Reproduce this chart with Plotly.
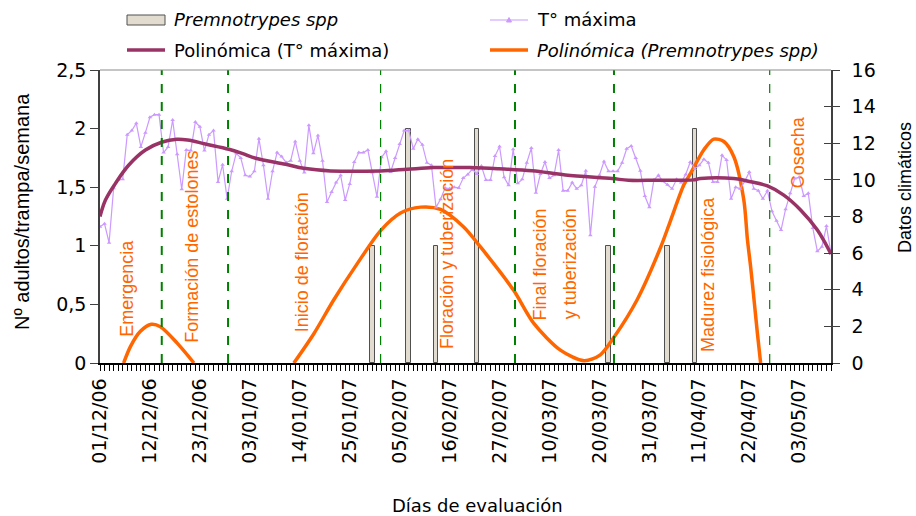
import plotly.graph_objects as go

# ---------------- data ----------------
x_tick_labels = ["01/12/06", "12/12/06", "23/12/06", "03/01/07", "14/01/07",
                 "25/01/07", "05/02/07", "16/02/07", "27/02/07", "10/03/07",
                 "20/03/07", "31/03/07", "11/04/07", "22/04/07", "03/05/07"]
x_tick_step = 11

# daily maximum temperature (right axis)
temp_max = [7.44, 7.6, 6.57, 9.54, 10.0, 10.03, 12.47, 12.69, 13.09, 11.8,
            12.58, 13.42, 13.56, 13.56, 11.49, 11.8, 13.27, 11.4, 9.49, 11.63,
            11.6, 13.16, 12.9, 11.6, 12.47, 12.69, 9.89, 10.83, 8.97, 10.47,
            11.45, 11.2, 10.25, 10.18, 10.47, 12.25, 10.8, 8.97, 10.47, 11.49,
            11.27, 10.95, 11.05, 12.1, 11.05, 10.4, 12.98, 11.45, 12.43, 11.05,
            8.79, 9.34, 9.85, 10.25, 8.9, 9.78, 10.98, 11.49, 11.49, 11.63,
            10.4, 9.08, 11.23, 11.56, 10.43, 11.2, 11.96, 12.69, 12.69, 11.7,
            12.22, 11.92, 10.94, 10.8, 8.5, 8.94, 9.56, 9.52, 9.6, 9.56,
            10.1, 10.3, 10.58, 10.32, 10.76, 9.99, 9.99, 11.3, 11.82, 10.14,
            9.7, 11.67, 9.81, 10.03, 10.94, 11.74, 9.3, 10.32, 10.98, 10.1,
            10.25, 11.63, 9.41, 9.41, 9.85, 9.52, 9.7, 10.5, 6.97, 9.63,
            10.25, 11.01, 10.47, 10.47, 10.47, 10.94, 11.7, 11.85, 11.2, 10.5,
            9.12, 8.5, 10.0, 10.25, 9.92, 9.74, 9.52, 10.03, 9.85, 10.3,
            10.98, 10.61, 10.8, 11.12, 10.94, 9.89, 9.89, 11.34, 11.09, 8.97,
            9.6, 9.52, 9.92, 10.43, 9.52, 9.41, 8.97, 9.41, 8.28, 7.77,
            7.26, 8.4, 9.27, 10.07, 10.14, 9.12, 9.27, 7.37, 6.1, 6.35,
            7.48, 5.99]

# Premnotrypes spp captures (left axis)
premno_day = [60, 68, 74, 83, 112, 125, 131]
premno_vals = [1, 2, 1, 2, 1, 1, 2]

# polynomial trend of max temperature (right axis), read at sample days
poly_t_day = [0, 1.2, 3.4, 6.3, 10, 13.7, 16.9, 19.3, 23.2, 28.4, 31.3, 34.3,
              40.9, 44.9, 50.8, 61.8, 67.7, 73.5, 81.6, 87.8, 95.2, 102.5,
              112.8, 116.4, 122.4, 130.7, 132.2, 139.6, 143.3, 147, 150.6,
              154.3, 158, 161]
poly_t_val = [8.0, 8.9, 9.81, 10.8, 11.63, 12.07, 12.22, 12.18, 11.96, 11.67,
              11.45, 11.18, 10.85, 10.63, 10.49, 10.49, 10.58, 10.67, 10.67,
              10.61, 10.5, 10.27, 10.07, 9.98, 9.98, 10.0, 10.07, 10.07, 9.9,
              9.67, 9.17, 8.36, 7.26, 5.95]

# polynomial trend of Premnotrypes (left axis), visible parts only
poly_p_day = [5.2, 6.7, 8.9, 11.3, 13.3, 17.0, 20.7, None,
              42.7, 47.1, 51.5, 56.7, 61.8, 66.2, 70.6, 75.0, 80.1, 83.8,
              91.1, 95.5, 101.4, 106.6, 110.2, 113.2, 118.3, 123.5, 125.7,
              128.6, 130.1, 133.0, 135.2, 137.4, 139.6, 141.8, 142.6, 143.3,
              144.1, 144.8, 145.5]
poly_p_val = [0, 0.14, 0.27, 0.33, 0.31, 0.17, 0, None,
              0, 0.25, 0.54, 0.85, 1.13, 1.28, 1.33, 1.31, 1.16, 0.99,
              0.62, 0.34, 0.11, 0.02, 0.07, 0.22, 0.54, 0.99, 1.22,
              1.52, 1.62, 1.82, 1.91, 1.89, 1.76, 1.39, 1.05, 0.82,
              0.52, 0.25, 0]

# phenological stage boundaries (day index)
stage_bounds = [13.6, 28.2, 61.8, 91.4, 113.2, 147.5]
stage_bound_widths = [2, 2, 1.2, 2, 2, 1.2]

# stage labels: text, day index, left-axis height
stage_text = ["Emergencia", "Formación de estolones", "Inicio de floración",
              "Floración y tuberización", "Final floración", "y tuberización",
              "Madurez fisiológica", "Cosecha"]
stage_text_day = [5.9, 20.2, 44.5, 76.4, 96.7, 103.6, 133.9, 153.8]
stage_text_level = [0.64, 0.99, 0.86, 0.93, 0.84, 0.845, 0.76, 1.80]

# legend entries (drawn above the plot)
legend_names = ["<i>Premnotrypes spp</i>", "T° máxima",
                "Polinómica (T° máxima)", "<i>Polinómica (Premnotrypes spp)</i>"]

# ---------------- styles / layout constants ----------------
ORANGE = "#FF6600"
PLUM = "#993366"
LILAC = "#CC99FF"
GREEN = "#008000"
BAR_FILL = "#E2DBCF"
BAR_LINE = "#505050"
TICK_FONT = dict(family="DejaVu Sans", size=19, color="#000000")
LEG_FONT = dict(family="DejaVu Sans", size=18, color="#000000")

W, H = 916, 516
ML, MR, MT, MB = 100, 85, 70, 153
PW, PH = W - ML - MR, H - MT - MB


def px_x(px):
    return (px - ML) / PW


def px_y(py):
    return (H - MB - py) / PH


fig = go.Figure()

fig.add_trace(go.Bar(
    x=premno_day, y=premno_vals, width=1.0,
    marker=dict(color=BAR_FILL, line=dict(color=BAR_LINE, width=1)),
    name=legend_names[0], showlegend=False, yaxis="y"))

fig.add_trace(go.Scatter(
    x=list(range(len(temp_max))), y=temp_max, mode="lines+markers",
    line=dict(color=LILAC, width=1.2),
    marker=dict(symbol="triangle-up", size=4, color=LILAC),
    name=legend_names[1], showlegend=False, yaxis="y2"))

fig.add_trace(go.Scatter(
    x=poly_t_day, y=poly_t_val, mode="lines", line_shape="spline",
    line=dict(color=PLUM, width=3.5),
    name=legend_names[2], showlegend=False, yaxis="y2"))

fig.add_trace(go.Scatter(
    x=poly_p_day, y=poly_p_val, mode="lines", line_shape="spline",
    line=dict(color=ORANGE, width=3.5, smoothing=0.8), connectgaps=False,
    name=legend_names[3], showlegend=False, yaxis="y"))

# helper trace for crossing ticks on the right axis
fig.add_trace(go.Scatter(x=[0], y=[0], mode="markers", marker=dict(opacity=0),
                         showlegend=False, hoverinfo="skip", yaxis="y3"))

for d, w in zip(stage_bounds, stage_bound_widths):
    fig.add_shape(type="line", xref="x", yref="paper", x0=d, x1=d, y0=0, y1=1,
                  line=dict(color=GREEN, width=w, dash="dash"), layer="above")

# top border of plot area
fig.add_shape(type="line", xref="paper", yref="paper", x0=0, x1=1, y0=1, y1=1,
              line=dict(color="#8C8C8C", width=1.2))

for t, d, lv in zip(stage_text, stage_text_day, stage_text_level):
    fig.add_annotation(x=d, y=lv, xref="x", yref="y", text=t, textangle=-90,
                       showarrow=False, xanchor="center", yanchor="middle",
                       font=dict(family="Liberation Sans", size=18, color=ORANGE))

# ---------------- legend (two rows, two columns) ----------------
col_sym = [127, 490]
row_y = [20, 50]
sym_len = 38
txt_gap = 7

# row 1, col 1: bar swatch
fig.add_shape(type="rect", xref="paper", yref="paper",
              x0=px_x(col_sym[0]), x1=px_x(col_sym[0] + sym_len),
              y0=px_y(row_y[0] + 5), y1=px_y(row_y[0] - 5),
              fillcolor=BAR_FILL, line=dict(color=BAR_LINE, width=1))
# row 1, col 2: thin line with triangle marker
fig.add_shape(type="line", xref="paper", yref="paper",
              x0=px_x(col_sym[1]), x1=px_x(col_sym[1] + sym_len),
              y0=px_y(row_y[0]), y1=px_y(row_y[0]),
              line=dict(color=LILAC, width=1.2))
cx = col_sym[1] + sym_len / 2
fig.add_shape(type="path", xref="paper", yref="paper",
              path="M {:.5f} {:.5f} L {:.5f} {:.5f} L {:.5f} {:.5f} Z".format(
                  px_x(cx - 2.5), px_y(row_y[0] + 2), px_x(cx + 2.5),
                  px_y(row_y[0] + 2), px_x(cx), px_y(row_y[0] - 2.5)),
              fillcolor=LILAC, line=dict(color=LILAC, width=1))
# row 2: thick trend lines
for c, col in zip(col_sym, [PLUM, ORANGE]):
    fig.add_shape(type="line", xref="paper", yref="paper",
                  x0=px_x(c), x1=px_x(c + sym_len),
                  y0=px_y(row_y[1]), y1=px_y(row_y[1]),
                  line=dict(color=col, width=3.5))

legend_pos = [(col_sym[0], row_y[0]), (col_sym[1], row_y[0]),
              (col_sym[0], row_y[1]), (col_sym[1], row_y[1])]
for name, (c, r) in zip(legend_names, legend_pos):
    fig.add_annotation(x=px_x(c + sym_len + txt_gap), y=px_y(r),
                       xref="paper", yref="paper", xanchor="left",
                       yanchor="middle", text=name, showarrow=False,
                       font=LEG_FONT)

# ---------------- axis titles ----------------
fig.add_annotation(x=px_x(22), y=px_y(212), xref="paper", yref="paper",
                   xanchor="center", yanchor="middle",
                   text="Nº adultos/trampa/semana", textangle=-90, showarrow=False,
                   font=dict(family="Liberation Sans", size=20, color="#000000"))
fig.add_annotation(x=px_x(905), y=px_y(188), xref="paper", yref="paper",
                   xanchor="center", yanchor="middle",
                   text="Datos climáticos", textangle=-90, showarrow=False,
                   font=dict(family="Liberation Sans", size=18, color="#000000"))
fig.add_annotation(x=px_x(477), y=px_y(505), xref="paper", yref="paper",
                   xanchor="center", yanchor="middle",
                   text="Días de evaluación", showarrow=False,
                   font=dict(family="DejaVu Sans", size=18, color="#000000"))

tickvals = [i * x_tick_step for i in range(len(x_tick_labels))]

fig.update_layout(
    width=W, height=H,
    margin=dict(l=ML, r=MR, t=MT, b=MB),
    paper_bgcolor="white", plot_bgcolor="white",
    separators=",.",
    bargap=0,
    showlegend=False,
    xaxis=dict(range=[0, 161], showgrid=False, zeroline=False,
               showline=True, linecolor="#000000", linewidth=1.5,
               tickmode="array", tickvals=tickvals, ticktext=x_tick_labels,
               tickangle=-90, tickfont=TICK_FONT,
               ticks="outside", ticklen=6, tickcolor="#000000",
               minor=dict(tickmode="linear", tick0=0, dtick=1, ticks="outside",
                          ticklen=6, tickcolor="#000000", showgrid=False)),
    yaxis=dict(range=[0, 2.5], dtick=0.5, showgrid=False, zeroline=False,
               showline=True, linecolor="#404040", linewidth=1.5,
               ticks="outside", ticklen=8, tickcolor="#404040",
               tickfont=TICK_FONT),
    yaxis2=dict(range=[0, 16], dtick=2, overlaying="y", side="right",
                showgrid=False, zeroline=False,
                showline=True, linecolor="#404040", linewidth=1.5,
                ticks="outside", ticklen=7, tickcolor="#404040",
                tickfont=TICK_FONT, ticklabelstandoff=8),
    yaxis3=dict(range=[0, 16], dtick=2, overlaying="y", side="right",
                showgrid=False, zeroline=False, showline=False,
                ticks="inside", ticklen=7, tickcolor="#404040",
                showticklabels=False),
)

fig.write_html("out.html")
